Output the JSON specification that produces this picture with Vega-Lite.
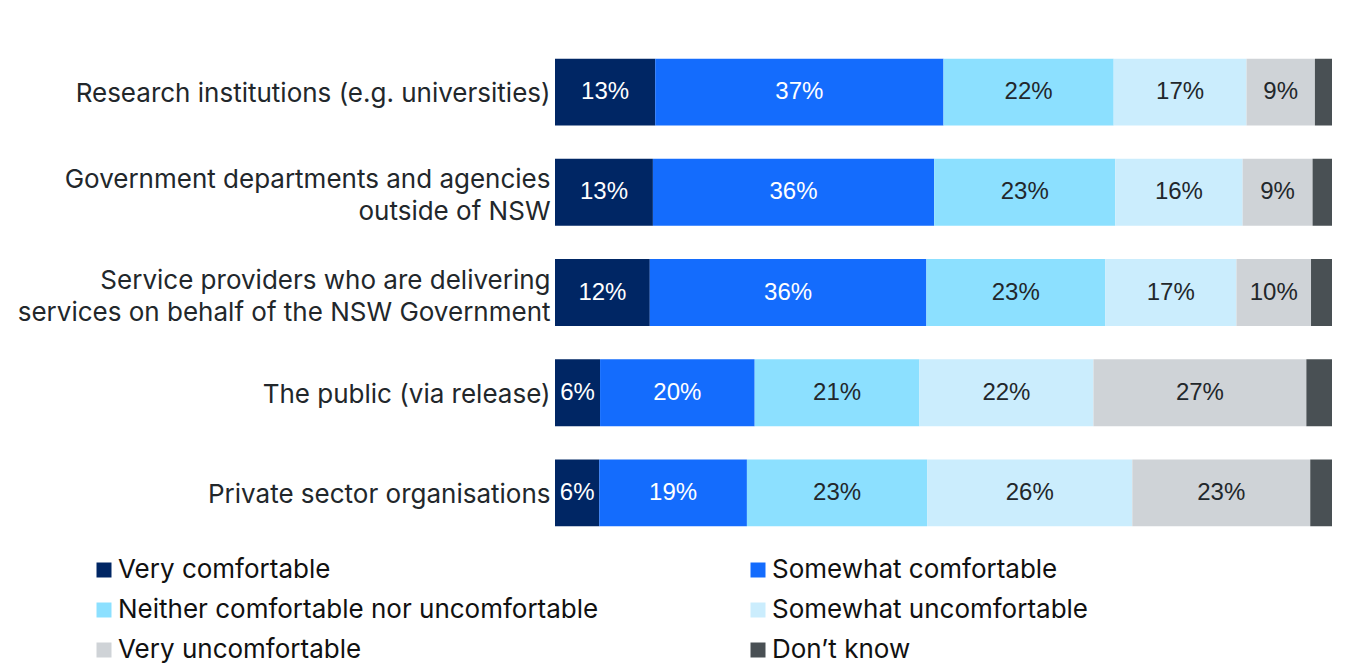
{
  "$schema": "https://vega.github.io/schema/vega-lite/v6.json",
  "width": 777,
  "height": 501,
  "autosize": {"type": "none"},
  "padding": {"left": 555, "top": 42, "right": 39, "bottom": 122},
  "background": "white",
  "config": {"view": {"stroke": null}},
  "data": {
    "values": [
      {"category": "Research institutions (e.g. universities)", "response": "Very comfortable", "o": 1, "value": 0.129},
      {"category": "Research institutions (e.g. universities)", "response": "Somewhat comfortable", "o": 2, "value": 0.371},
      {"category": "Research institutions (e.g. universities)", "response": "Neither comfortable nor uncomfortable", "o": 3, "value": 0.219},
      {"category": "Research institutions (e.g. universities)", "response": "Somewhat uncomfortable", "o": 4, "value": 0.171},
      {"category": "Research institutions (e.g. universities)", "response": "Very uncomfortable", "o": 5, "value": 0.088},
      {"category": "Research institutions (e.g. universities)", "response": "Don’t know", "o": 6, "value": 0.022},
      {"category": "Government departments and agencies|outside of NSW", "response": "Very comfortable", "o": 1, "value": 0.126},
      {"category": "Government departments and agencies|outside of NSW", "response": "Somewhat comfortable", "o": 2, "value": 0.362},
      {"category": "Government departments and agencies|outside of NSW", "response": "Neither comfortable nor uncomfortable", "o": 3, "value": 0.233},
      {"category": "Government departments and agencies|outside of NSW", "response": "Somewhat uncomfortable", "o": 4, "value": 0.164},
      {"category": "Government departments and agencies|outside of NSW", "response": "Very uncomfortable", "o": 5, "value": 0.090},
      {"category": "Government departments and agencies|outside of NSW", "response": "Don’t know", "o": 6, "value": 0.025},
      {"category": "Service providers who are delivering|services on behalf of the NSW Government", "response": "Very comfortable", "o": 1, "value": 0.122},
      {"category": "Service providers who are delivering|services on behalf of the NSW Government", "response": "Somewhat comfortable", "o": 2, "value": 0.356},
      {"category": "Service providers who are delivering|services on behalf of the NSW Government", "response": "Neither comfortable nor uncomfortable", "o": 3, "value": 0.230},
      {"category": "Service providers who are delivering|services on behalf of the NSW Government", "response": "Somewhat uncomfortable", "o": 4, "value": 0.169},
      {"category": "Service providers who are delivering|services on behalf of the NSW Government", "response": "Very uncomfortable", "o": 5, "value": 0.096},
      {"category": "Service providers who are delivering|services on behalf of the NSW Government", "response": "Don’t know", "o": 6, "value": 0.027},
      {"category": "The public (via release)", "response": "Very comfortable", "o": 1, "value": 0.058},
      {"category": "The public (via release)", "response": "Somewhat comfortable", "o": 2, "value": 0.199},
      {"category": "The public (via release)", "response": "Neither comfortable nor uncomfortable", "o": 3, "value": 0.212},
      {"category": "The public (via release)", "response": "Somewhat uncomfortable", "o": 4, "value": 0.224},
      {"category": "The public (via release)", "response": "Very uncomfortable", "o": 5, "value": 0.274},
      {"category": "The public (via release)", "response": "Don’t know", "o": 6, "value": 0.033},
      {"category": "Private sector organisations", "response": "Very comfortable", "o": 1, "value": 0.057},
      {"category": "Private sector organisations", "response": "Somewhat comfortable", "o": 2, "value": 0.190},
      {"category": "Private sector organisations", "response": "Neither comfortable nor uncomfortable", "o": 3, "value": 0.232},
      {"category": "Private sector organisations", "response": "Somewhat uncomfortable", "o": 4, "value": 0.264},
      {"category": "Private sector organisations", "response": "Very uncomfortable", "o": 5, "value": 0.229},
      {"category": "Private sector organisations", "response": "Don’t know", "o": 6, "value": 0.028}
    ]
  },
  "transform": [
    {"stack": "value", "groupby": ["category"], "sort": [{"field": "o", "order": "ascending"}], "as": ["x0", "x1"]},
    {"calculate": "(datum.x0 + datum.x1) / 2", "as": "xmid"}
  ],
  "encoding": {
    "y": {
      "field": "category",
      "type": "nominal",
      "sort": null,
      "scale": {"paddingInner": 0.332, "paddingOuter": 0.166},
      "axis": {
        "title": null,
        "domain": false,
        "ticks": false,
        "labelExpr": "split(datum.label, '|')",
        "labelFont": "Inter",
        "labelFontSize": 26,
        "labelColor": "#22272b",
        "labelLineHeight": 32,
        "labelPadding": 5,
        "labelLimit": 600,
        "labelOffset": {"condition": {"test": "indexof(datum.value, '|') >= 0", "value": -12}, "value": 2}
      }
    }
  },
  "layer": [
    {
      "mark": {"type": "bar"},
      "encoding": {
        "x": {"field": "x0", "type": "quantitative", "scale": {"domain": [0, 1], "nice": false}, "axis": null},
        "x2": {"field": "x1"},
        "color": {
          "field": "response",
          "type": "nominal",
          "scale": {
            "domain": ["Very comfortable", "Somewhat comfortable", "Neither comfortable nor uncomfortable", "Somewhat uncomfortable", "Very uncomfortable", "Don’t know"],
            "range": ["#002664", "#146cfd", "#8ce0ff", "#cbedfd", "#cfd3d7", "#495054"]
          },
          "legend": {
            "title": null,
            "orient": "none",
            "legendX": -464,
            "legendY": 515,
            "columns": 2,
            "direction": "horizontal",
            "columnPadding": 146,
            "rowPadding": 14,
            "padding": 0,
            "symbolType": "square",
            "symbolSize": 225,
            "symbolStrokeWidth": 0,
            "labelFont": "Inter",
            "labelFontSize": 26,
            "labelColor": "#111111",
            "labelOffset": 1,
            "labelLimit": 700
          }
        }
      }
    },
    {
      "transform": [{"filter": "datum.o < 6"}],
      "mark": {"type": "text", "font": "Liberation Sans", "fontSize": 24, "baseline": "middle", "align": "center"},
      "encoding": {
        "x": {"field": "xmid", "type": "quantitative"},
        "text": {"field": "value", "type": "quantitative", "format": ".0%"},
        "color": {
          "condition": {"test": "datum.o <= 2", "value": "white"},
          "value": "#22272b"
        }
      }
    }
  ]
}
